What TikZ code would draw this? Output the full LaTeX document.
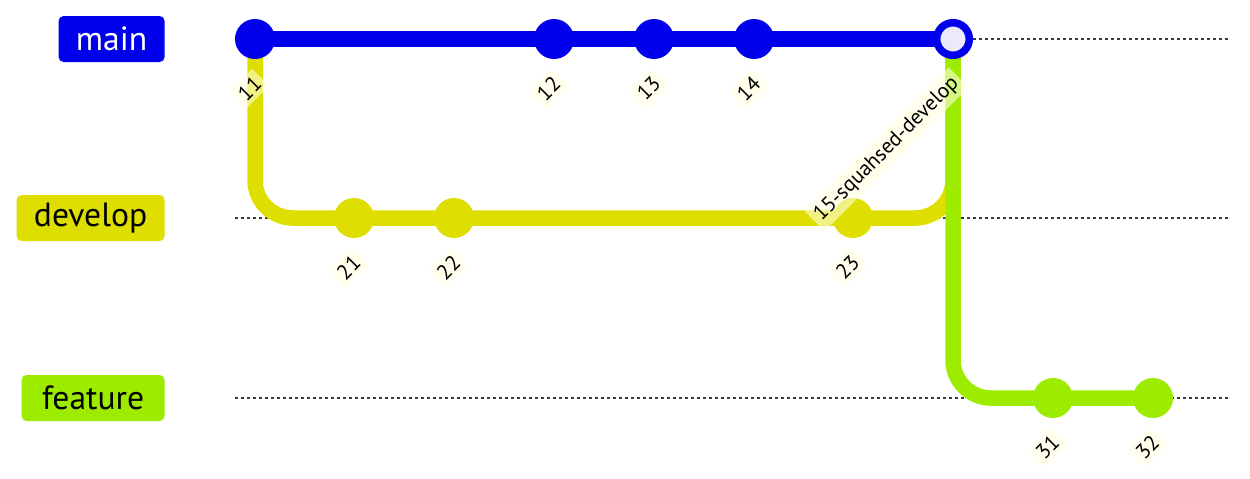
\documentclass[tikz,border=0pt]{standalone}
\usepackage{fontspec}
\setmainfont{PT Sans}
\usetikzlibrary{backgrounds}
\definecolor{mainc}{RGB}{0,0,236}
\definecolor{devc}{RGB}{222,222,0}
\definecolor{featc}{RGB}{157,236,0}
\definecolor{mergec}{RGB}{234,234,250}
\definecolor{tagbg}{RGB}{255,255,222}
\definecolor{lanec}{RGB}{60,60,60}

\begin{document}
\begin{tikzpicture}[x=0.5pt,y=-0.5pt,
  branch/.style={rounded corners=2.5pt,minimum height=23pt,anchor=east,inner sep=0pt,
    font=\fontsize{16.8}{16.8}\selectfont},
  commit/.style={circle,minimum size=20pt,inner sep=0pt},
  tag/.style={rotate=45,anchor=east,fill=tagbg,fill opacity=0.6,text opacity=1,
    inner sep=2.2pt,font=\fontsize{10.6}{10.6}\selectfont},
  lane/.style={dash pattern=on 1.5pt off 1.5pt,line width=0.65pt,lanec},
  track/.style={line width=7.75pt,rounded corners=19pt}]

  \useasboundingbox (0,0) rectangle (1250,478);

  % branch names
  \node[branch,fill=mainc,text=white,minimum width=53pt] (bmain) at (165,39) {main};
  \node[branch,fill=devc,minimum width=74pt] (bdev) at (165,218) {develop};
  \node[branch,fill=featc,minimum width=71.5pt] (bfeat) at (165,398) {feature};

  % commits
  \node[commit,fill=mainc] (c11) at (255,39) {};
  \node[commit,fill=mainc] (c12) at (554,39) {};
  \node[commit,fill=mainc] (c13) at (654,39) {};
  \node[commit,fill=mainc] (c14) at (754,39) {};
  \node[circle,draw=mainc,line width=3.75pt,fill=mergec,minimum size=16.3pt,inner sep=0pt] (c15) at (953,39) {};

  \node[commit,fill=devc] (c21) at (354,218) {};
  \node[commit,fill=devc] (c22) at (454,218) {};
  \node[commit,fill=devc] (c23) at (853,218) {};

  \node[commit,fill=featc] (c31) at (1053,398) {};
  \node[commit,fill=featc] (c32) at (1153,398) {};

  \begin{pgfonlayer}{background}
    \draw[lane] (235,39) -- (1230,39);
    \draw[lane] (235,218) -- (1230,218);
    \draw[lane] (235,398) -- (1230,398);

    \draw[track,devc] (c11.center) |- (c21.center) -- (c22.center) -- (c23.center) -| (c15.center);
    \draw[track,featc] (c15.center) |- (c31.center) -- (c32.center);
    \draw[track,mainc] (c11.center) -- (c12.center) -- (c13.center) -- (c14.center) -- (c15.center);
  \end{pgfonlayer}

  % commit ids
  \node[tag] (t11) at (261,77) {11};
  \node[tag] (t12) at (560,77) {12};
  \node[tag] (t13) at (660,77) {13};
  \node[tag] (t14) at (760,77) {14};
  \node[tag] (t15) at (959,77) {15-squahsed-develop};
  \node[tag] (t21) at (360,256) {21};
  \node[tag] (t22) at (460,256) {22};
  \node[tag] (t23) at (859,256) {23};
  \node[tag] (t31) at (1059,436) {31};
  \node[tag] (t32) at (1159,436) {32};

\end{tikzpicture}
\end{document}
